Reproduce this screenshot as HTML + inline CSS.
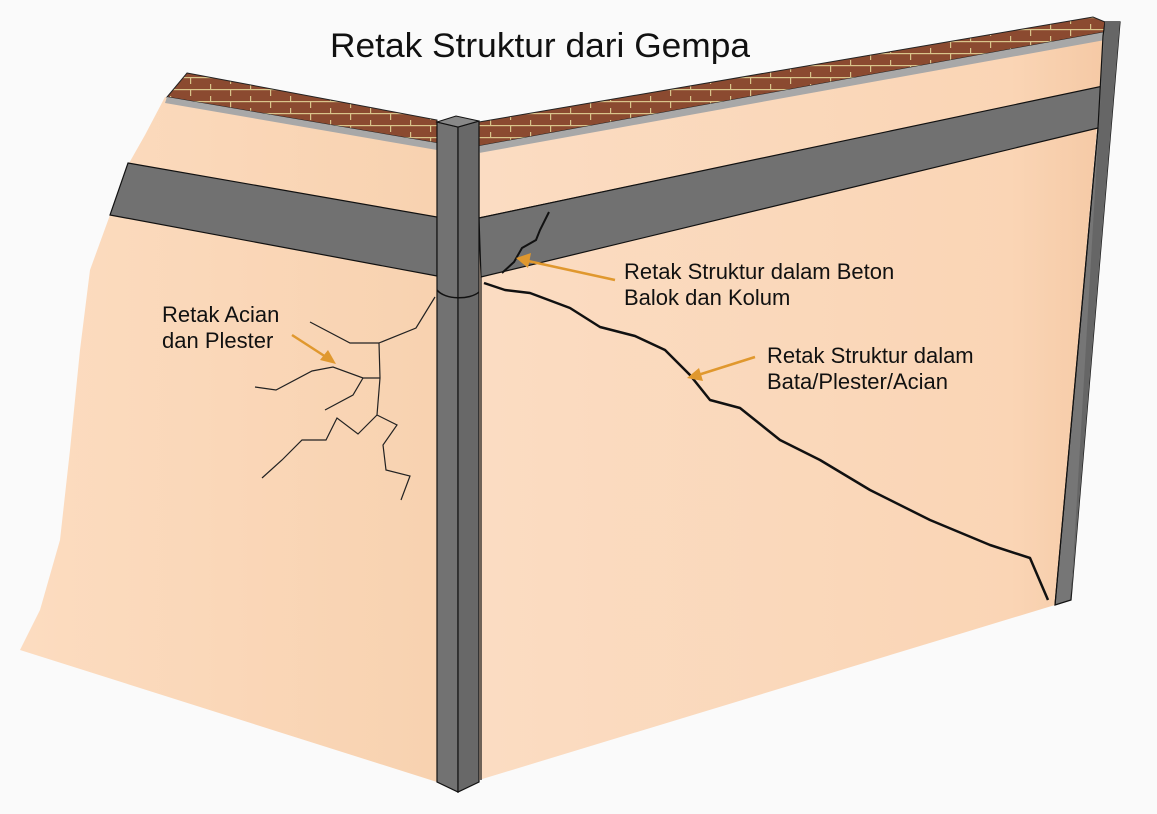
<!DOCTYPE html>
<html><head><meta charset="utf-8"><style>
html,body{margin:0;padding:0;background:#fafafa;}
svg{display:block;}
text{font-family:"Liberation Sans",Arial,sans-serif;fill:#111;}
</style></head><body>
<svg width="1157" height="814" viewBox="0 0 1157 814" xmlns="http://www.w3.org/2000/svg">
<defs>
<linearGradient id="wl" x1="0" y1="0" x2="1" y2="0"><stop offset="0" stop-color="#fcdcc0"/><stop offset="1" stop-color="#f8d2b0"/></linearGradient>
<linearGradient id="wr" x1="0" y1="0" x2="1" y2="0"><stop offset="0" stop-color="#fbdcc2"/><stop offset="0.85" stop-color="#fad5b5"/><stop offset="1" stop-color="#f5c9a5"/></linearGradient>
<pattern id="brick" width="40" height="12" patternUnits="userSpaceOnUse">
<rect width="40" height="12" fill="#8b4a30"/>
<rect x="0" y="5" width="40" height="1.2" fill="#d9c48a"/>
<rect x="10" y="0" width="1.2" height="5" fill="#d9c48a"/>
<rect x="30" y="6" width="1.2" height="6" fill="#d9c48a"/>
</pattern>
</defs>
<polygon points="165,97 437,143 437,782 20,650 40,610 60,540 70,450 80,350 90,270 110,215 128,165 145,135" fill="url(#wl)"/>
<polygon points="187,73 437,120 437,143 167,97" fill="url(#brick)" stroke="#222" stroke-width="1"/>
<polygon points="167,97 437,143 437,150 165,103" fill="#a8a8a8"/>
<polygon points="128,163 437,217 437,276 110,215" fill="#717171" stroke="#111" stroke-width="1.2"/>
<polygon points="479,148 1105,38 1055,605 479,780" fill="url(#wr)"/>
<polygon points="479,122 1093,17 1105,22 1105,32 479,146" fill="url(#brick)" stroke="#222" stroke-width="1"/>
<polygon points="479,146 1105,32 1105,40 479,153" fill="#a8a8a8"/>
<polyline points="479,153 479,218 1103,87" fill="none" stroke="#111" stroke-width="1.2"/>
<polygon points="479,218 1103,86 1098,128 481,277" fill="#717171" stroke="#111" stroke-width="1.2"/>
<polygon points="1103,36 1105,22 1120,22 1071,600 1055,605 1098,128" fill="#767676" stroke="#111" stroke-width="1.2"/>
<polygon points="1105,22 1120,22 1071,600" fill="#666"/>
<line x1="1098" y1="128" x2="1055" y2="605" stroke="#111" stroke-width="1.2"/>
<polygon points="437,122 458,127 458,792 437,782" fill="#727272" stroke="#111" stroke-width="1.2"/>
<polygon points="458,127 479,121 479,782 458,792" fill="#686868" stroke="#111" stroke-width="1.2"/>
<polygon points="437,122 456,116 479,121 458,127" fill="#888" stroke="#111" stroke-width="1"/>
<line x1="481" y1="277" x2="481" y2="780" stroke="#111" stroke-width="1.2"/>
<path d="M437,290 C445,300 470,300 479,292" fill="none" stroke="#111" stroke-width="1.5"/>
<g fill="none" stroke="#222" stroke-width="1.2">
<polyline points="435,297 416,328 379,343 380,378 377,415"/>
<polyline points="310,322 350,343 379,343"/>
<polyline points="380,378 363,378 333,367 312,371 276,390 255,387"/>
<polyline points="363,378 353,395 325,410"/>
<polyline points="377,415 358,434 337,418 326,440 302,440 282,460 262,478"/>
<polyline points="377,415 397,425 383,445 386,470 410,476 401,500"/>
</g>
<polyline points="549,212 540,230 536,240 522,248 514,262 502,273" fill="none" stroke="#111" stroke-width="2"/>
<polyline points="484,283 505,290 530,293 570,308 600,327 635,336 665,350 690,375 710,400 740,408 780,440 820,460 870,490 930,520 990,545 1030,558 1048,600" fill="none" stroke="#111" stroke-width="2.5" stroke-linejoin="round"/>
<g stroke="#e0982e" stroke-width="2.5" fill="#e0982e">
<line x1="292" y1="335" x2="326" y2="357"/>
<polygon points="336,364 320,360 328,350" stroke="none"/>
<line x1="615" y1="280" x2="528" y2="261"/>
<polygon points="516,258 531,253 528,268" stroke="none"/>
<line x1="755" y1="357" x2="698" y2="375"/>
<polygon points="687,378 699,368 703,381" stroke="none"/>
</g>
<text x="540" y="57" font-size="34" text-anchor="middle" textLength="420" lengthAdjust="spacingAndGlyphs">Retak Struktur dari Gempa</text>
<text x="162" y="322" font-size="22">Retak Acian</text>
<text x="162" y="348" font-size="22">dan Plester</text>
<text x="624" y="279" font-size="22">Retak Struktur dalam Beton</text>
<text x="624" y="305" font-size="22">Balok dan Kolum</text>
<text x="767" y="363" font-size="22">Retak Struktur dalam</text>
<text x="767" y="389" font-size="22">Bata/Plester/Acian</text>
</svg>
</body></html>
